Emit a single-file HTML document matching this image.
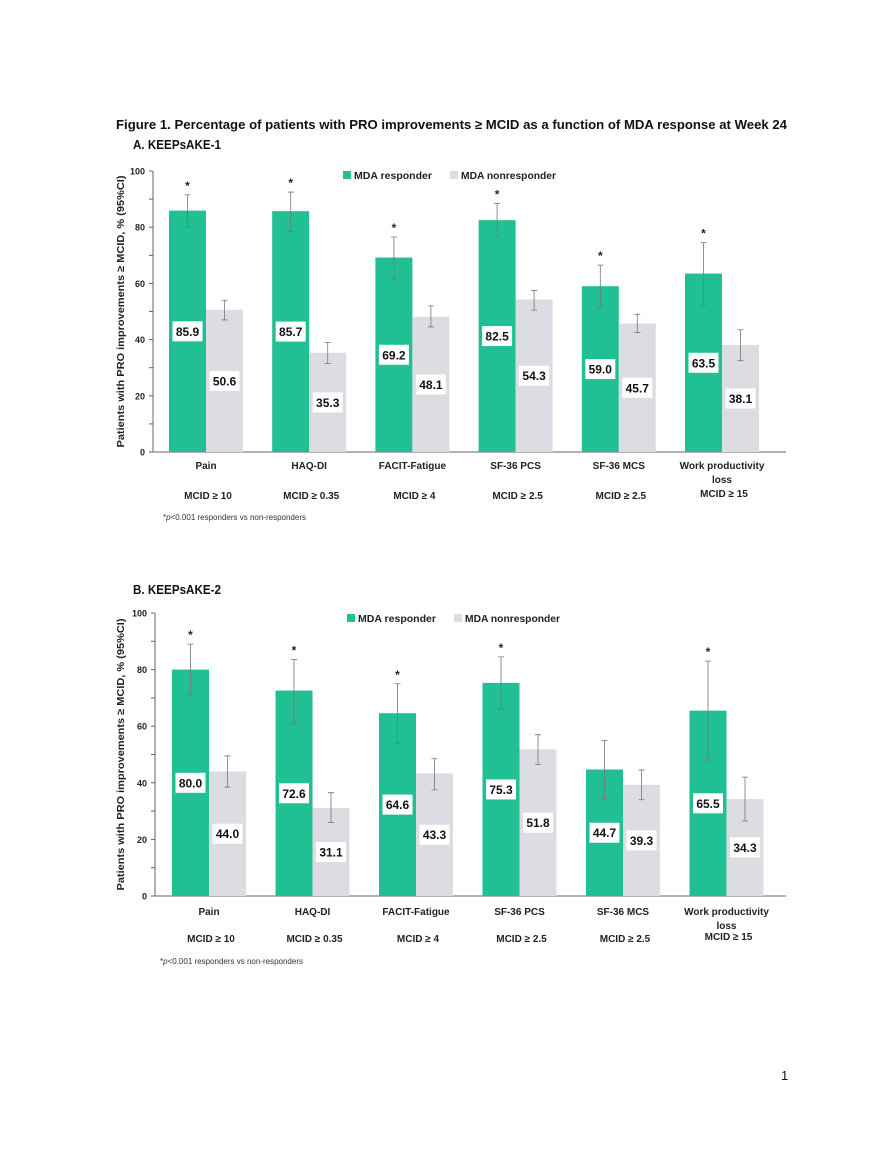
<!DOCTYPE html>
<html><head><meta charset="utf-8"><style>
html,body{margin:0;padding:0;background:#fff;}
svg{display:block;font-family:"Liberation Sans",sans-serif;}
</style></head><body>
<svg id="page" width="893" height="1155" viewBox="0 0 893 1155" xmlns="http://www.w3.org/2000/svg">
<rect width="893" height="1155" fill="#fff"/>
<text x="116" y="129" font-size="13" font-weight="bold" fill="#111" textLength="671" lengthAdjust="spacingAndGlyphs">Figure 1. Percentage of patients with PRO improvements ≥ MCID as a function of MDA response at Week 24</text>
<text x="133" y="149" font-size="12.5" font-weight="bold" fill="#111" textLength="88" lengthAdjust="spacingAndGlyphs">A. KEEPsAKE-1</text>
<text x="133" y="594" font-size="12.5" font-weight="bold" fill="#111" textLength="88" lengthAdjust="spacingAndGlyphs">B. KEEPsAKE-2</text>
<text x="781" y="1080" font-size="13" fill="#111">1</text>
<g id="chartA"></g>
<g id="chartB"></g>
</svg>
<script>
const categories = ["Pain","HAQ-DI","FACIT-Fatigue","SF-36 PCS","SF-36 MCS","Work productivity|loss"];
const mcidLabels = ["MCID ≥ 10","MCID ≥ 0.35","MCID ≥ 4","MCID ≥ 2.5","MCID ≥ 2.5","MCID ≥ 15"];
const yTicks = [0,20,40,60,80,100];
const a_responder = [85.9,85.7,69.2,82.5,59.0,63.5];
const a_nonresponder = [50.6,35.3,48.1,54.3,45.7,38.1];
const a_respLo = [80,78.5,61.5,76.5,51.5,52];
const a_respHi = [91.5,92.5,76.5,88.5,66.5,74.5];
const a_nonLo = [47,31.5,44.5,50.5,42.5,32.5];
const a_nonHi = [54,39,52,57.5,49,43.5];
const a_sig = [true,true,true,true,true,true];
const b_responder = [80.0,72.6,64.6,75.3,44.7,65.5];
const b_nonresponder = [44.0,31.1,43.3,51.8,39.3,34.3];
const b_respLo = [71,61,54,66,34.5,48];
const b_respHi = [89,83.5,75,84.5,55,83];
const b_nonLo = [38.5,26,37.5,46.5,34,26.5];
const b_nonHi = [49.5,36.5,48.5,57,44.5,42];
const b_sig = [true,true,true,true,false,true];

const NS="http://www.w3.org/2000/svg";
const GREEN="#20bf94", GREY="#dcdde2";
function mk(parent,tag,attrs,text){const e=document.createElementNS(NS,tag);for(const k in attrs)e.setAttribute(k,attrs[k]);if(text!==undefined)e.textContent=text;parent.appendChild(e);return e;}

function drawChart(g,cfg,resp,non,rLo,rHi,nLo,nHi,sig){
  const y=v=>cfg.y0-(cfg.y0-cfg.y100)*v/100;
  const xg=i=>cfg.first+i*cfg.step;
  // axes
  let e=mk(g,"line",{x1:cfg.ax,x2:cfg.ax,y1:cfg.y100,y2:cfg.y0,stroke:"#666","stroke-width":1});
  
  
  e=mk(g,"line",{x1:cfg.ax,x2:cfg.xend,y1:cfg.y0,y2:cfg.y0,stroke:"#666","stroke-width":1});
  
  
  for(let v=0;v<=100;v+=10){
    e=mk(g,"line",{x1:cfg.ax-4,x2:cfg.ax,y1:y(v),y2:y(v),stroke:"#666","stroke-width":1});
    
    
  }
  yTicks.forEach(t=>{
    e=mk(g,"text",{x:cfg.ax-8,y:y(t)+3.5,"font-size":9,"font-weight":"bold","text-anchor":"end",fill:"#222"},String(t));
    
    
  });
  const cy=(cfg.y0+cfg.y100)/2;
  e=mk(g,"text",{x:0,y:0,"font-size":10.5,"font-weight":"bold","text-anchor":"middle",fill:"#222",transform:`translate(${cfg.titleX},${cy}) rotate(-90)`,textLength:272,lengthAdjust:"spacingAndGlyphs"},"Patients with PRO improvements ≥ MCID, % (95%CI)");
  
  
  // legend
  e=mk(g,"rect",{x:cfg.legX,y:cfg.legY-7,width:8,height:8,fill:GREEN});
  
  
  e=mk(g,"text",{x:cfg.legX+11,y:cfg.legY+1,"font-size":10.5,"font-weight":"bold",fill:"#222",textLength:78,lengthAdjust:"spacingAndGlyphs"},"MDA responder");
  
  
  e=mk(g,"rect",{x:cfg.legX+107,y:cfg.legY-7,width:8,height:8,fill:GREY});
  
  
  e=mk(g,"text",{x:cfg.legX+118,y:cfg.legY+1,"font-size":10.5,"font-weight":"bold",fill:"#222",textLength:95,lengthAdjust:"spacingAndGlyphs"},"MDA nonresponder");
  
  
  const W=cfg.bw;
  categories.forEach((c,i)=>{
    const gx=xg(i), nx=gx+W;
    e=mk(g,"rect",{x:gx,y:y(resp[i]),width:W,height:y(0)-y(resp[i]),fill:GREEN});
    
    
    e=mk(g,"rect",{x:nx,y:y(non[i]),width:W,height:y(0)-y(non[i]),fill:GREY});
    
    
    [[gx,rLo[i],rHi[i],'error-bar-responder'],[nx,nLo[i],nHi[i],'error-bar-nonresponder']].forEach(([bx,lo,hi,nm])=>{
      const m=bx+W/2;
      const p=mk(g,"path",{d:`M${m},${y(lo)}V${y(hi)}M${m-3},${y(lo)}H${m+3}M${m-3},${y(hi)}H${m+3}`,stroke:"#777","stroke-width":0.8,fill:"none"});
      
      
    });
    if(sig[i]){
      e=mk(g,"text",{x:gx+W/2,y:y(rHi[i])-5,"font-size":12,"font-weight":"bold","text-anchor":"middle",fill:"#222"},"*");
      
      
    }
    [[gx,resp[i],'value-label-responder'],[nx,non[i],'value-label-nonresponder']].forEach(([bx,v,nm])=>{
      const m=bx+W/2, ly=y(v/2);
      const r=mk(g,"rect",{x:m-15,y:ly-10,width:30,height:20,fill:"#fff"});
      
      
      const t=mk(g,"text",{x:m,y:ly+4.5,"font-size":12,"font-weight":"bold","text-anchor":"middle",fill:"#111"},v.toFixed(1));
      
      
    });
    const cx=gx+W;
    const parts=c.split("|");
    parts.forEach((p,k)=>{
      const t=mk(g,"text",{x:cx,y:cfg.catY+k*14,"font-size":10,"font-weight":"bold","text-anchor":"middle",fill:"#222"},p);
      
      
    });
    const t=mk(g,"text",{x:cx+2,y:parts.length>1?cfg.mcidY-2:cfg.mcidY,"font-size":10,"font-weight":"bold","text-anchor":"middle",fill:"#222"},mcidLabels[i]);
    
    
  });
  const f=mk(g,"text",{x:cfg.footX,y:cfg.footY,"font-size":8,fill:"#333"});
  
  
  mk(f,"tspan",{},"*");
  mk(f,"tspan",{"font-style":"italic"},"p");
  mk(f,"tspan",{},"<0.001 responders vs non-responders");
}
drawChart(document.getElementById("chartA"),
 {ax:153,xend:786,y0:452,y100:171,first:169,step:103.2,bw:37,titleX:124,legX:343,legY:178,catY:469,mcidY:499,footX:163,footY:520},
 a_responder,a_nonresponder,a_respLo,a_respHi,a_nonLo,a_nonHi,a_sig);
drawChart(document.getElementById("chartB"),
 {ax:155,xend:786,y0:896,y100:613,first:172,step:103.5,bw:37,titleX:124,legX:347,legY:621,catY:915,mcidY:942,footX:160,footY:964},
 b_responder,b_nonresponder,b_respLo,b_respHi,b_nonLo,b_nonHi,b_sig);
</script>
</body></html>
